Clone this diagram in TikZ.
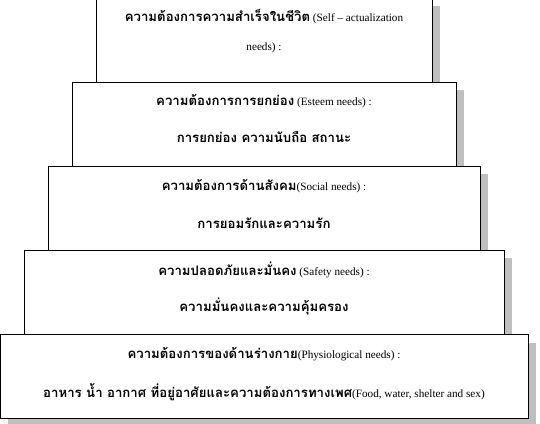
\documentclass[tikz,border=0pt]{standalone}
\usepackage{fontspec}
\setmainfont{Liberation Serif}
\newfontfamily\thaifont[Script=Thai]{Loma}
\usetikzlibrary{positioning,shadows}
\newcommand{\thb}[1]{{\thaifont\bfseries\fontsize{13.2}{15}\selectfont #1}}

\begin{document}
\begin{tikzpicture}[x=1pt, y=1pt,
    tier/.style={draw, line width=0.8pt, fill=white, minimum height=84pt, inner sep=0pt,
        drop shadow={shadow xshift=8pt, shadow yshift=-8pt, fill=black!25, opacity=1}},
    need/.style={font=\fontsize{11.2}{13}\selectfont, inner sep=0pt, anchor=center}
]
    \useasboundingbox (0,0) rectangle (540,423);
    % the five tiers, top to bottom
    \node [tier, minimum width=336pt] (self) at (264,383) {};
    \node [tier, minimum width=384pt] (esteem) at (264,299) {};
    \node [tier, minimum width=432pt] (social) at (264,215) {};
    \node [tier, minimum width=480pt] (safety) at (264,131) {};
    \node [tier, minimum width=528pt] (physio) at (264,46.5) {};

    \node [need, below=19pt of self.north, anchor=center] (selfA) {\thb{ความต้องการความสำเร็จในชีวิต} (Self -- actualization};
    \node [need, below=50pt of self.north, anchor=center] (selfB) {needs) :};

    \node [need, below=20pt of esteem.north, anchor=center] (esteemA) {\thb{ความต้องการการยกย่อง} (Esteem needs) :};
    \node [need, below=55pt of esteem.north, anchor=center] (esteemB) {\thb{การยกย่อง ความนับถือ สถานะ}};

    \node [need, below=21pt of social.north, anchor=center] (socialA) {\thb{ความต้องการด้านสังคม}(Social needs) :};
    \node [need, below=58pt of social.north, anchor=center] (socialB) {\thb{การยอมรักและความรัก}};

    \node [need, below=20pt of safety.north, anchor=center] (safetyA) {\thb{ความปลอดภัยและมั่นคง} (Safety needs) :};
    \node [need, below=57pt of safety.north, anchor=center] (safetyB) {\thb{ความมั่นคงและความคุ้มครอง}};

    \node [need, below=20pt of physio.north, anchor=center] (physioA) {\thb{ความต้องการของด้านร่างกาย}(Physiological needs) :};
    \node [need, below=58pt of physio.north, anchor=center] (physioB) {\thb{อาหาร น้ำ อากาศ ที่อยู่อาศัยและความต้องการทางเพศ}(Food, water, shelter and sex)};
\end{tikzpicture}
\end{document}
